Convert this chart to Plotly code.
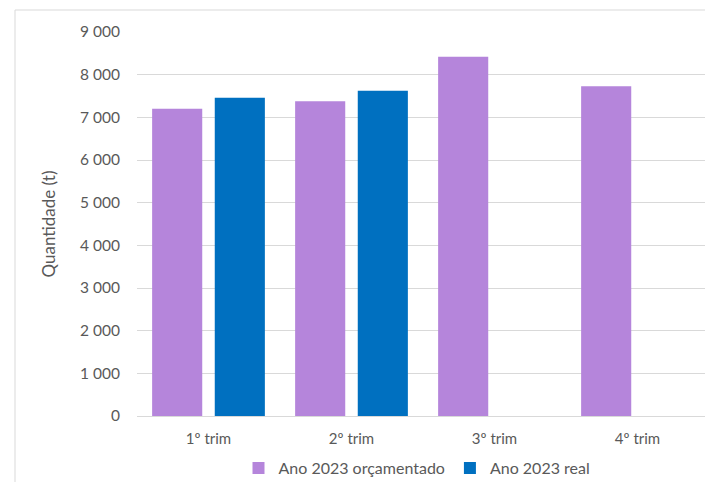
import plotly.graph_objects as go

categories = ["1º trim", "2º trim", "3º trim", "4º trim"]
orcamentado = [7200, 7375, 8420, 7726]
real = [7460, 7625, None, None]
y_ticks = [0, 1000, 2000, 3000, 4000, 5000, 6000, 7000, 8000, 9000]

PURPLE = "#B585DB"
BLUE = "#0070C0"
TEXT = "#595959"
GRID = "#D9D9D9"
FONT = "Lato, Carlito, 'Liberation Sans', sans-serif"

# page body has an 8px margin, so the figure is sized to fit the 713x482 window
W, H = 705, 474
L, R, T, B = 129, 4, 24, 66
PW, PH = W - L - R, H - T - B

fig = go.Figure()
fig.add_trace(go.Bar(x=categories, y=orcamentado, name="Ano 2023 orçamentado",
                     marker=dict(color=PURPLE, line=dict(width=0))))
fig.add_trace(go.Bar(x=categories, y=real, name="Ano 2023 real",
                     marker=dict(color=BLUE, line=dict(width=0))))

fig.update_layout(
    width=W, height=H,
    margin=dict(l=L, r=R, t=T, b=B, autoexpand=False),
    paper_bgcolor="white", plot_bgcolor="white",
    barmode="group", bargap=0.124, bargroupgap=0.2,
    separators=", ",
    font=dict(family=FONT, size=15, color=TEXT),
    showlegend=True,
    legend=dict(orientation="h", x=0.5 - 6 / PW, xanchor="center", y=-52 / PH,
                yanchor="middle", font=dict(size=16, color=TEXT), itemwidth=30,
                traceorder="normal"),
    xaxis=dict(showgrid=False, showline=True, linecolor=GRID, linewidth=1,
               ticks="", ticklabelstandoff=9, tickfont=dict(size=15, color=TEXT)),
    yaxis=dict(range=[0, 9000], tickvals=y_ticks, tickformat=",d",
               showgrid=True, gridcolor=GRID, gridwidth=1, zeroline=False,
               showline=False, ticks="", ticklabelstandoff=16,
               tickfont=dict(size=15.5, color=TEXT),
               title=dict(text="Quantidade (t)", standoff=20,
                          font=dict(size=17, color=TEXT))),
    shapes=[dict(type="rect", xref="paper", yref="paper",
                 x0=(7 - L) / PW, x1=(W + 10 - L) / PW,
                 y0=-(B + 20) / PH, y1=(PH + T - 2) / PH,
                 line=dict(color=GRID, width=1), fillcolor="rgba(0,0,0,0)",
                 layer="below")],
)

fig.write_html("out.html")
